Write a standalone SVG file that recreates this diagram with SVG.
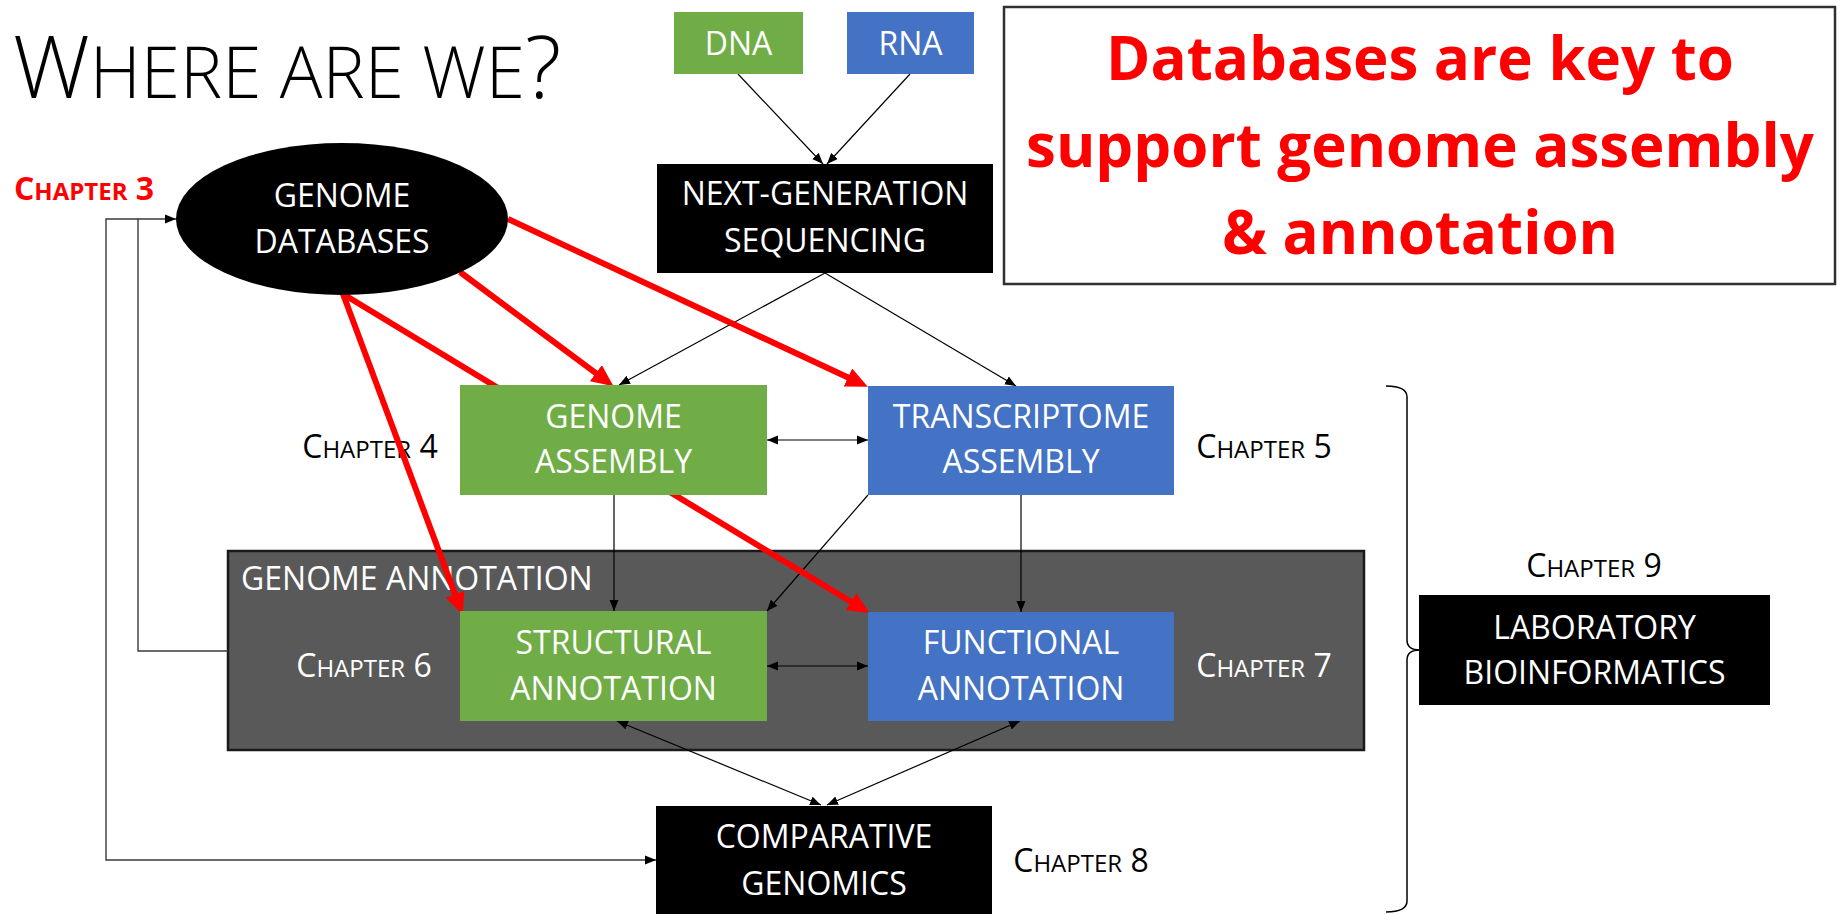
<svg xmlns="http://www.w3.org/2000/svg" width="1844" height="914" viewBox="0 0 1844 914">
  <defs>
    <style>
      text { font-family: "Open Sans", "Noto Sans", "Liberation Sans", sans-serif; }
      .lbl { font-size: 32px; fill: #ffffff; text-anchor: middle; }
      .ch { font-size: 32px; text-anchor: middle; fill: #000000; }
      .sc { font-size: 24px; }
      .thin { stroke: #000000; stroke-width: 1.2; fill: none; }
      .red { stroke: #ff0000; stroke-width: 6; fill: none; }
      .elbow { stroke: #3a3a3a; stroke-width: 1.4; fill: none; }
      .callout-text { font-size: 60px; font-weight: 700; fill: #ff0000; text-anchor: middle; }
    </style>
    <marker id="ah" viewBox="0 0 11 10" refX="11" refY="5" markerWidth="11" markerHeight="10" markerUnits="userSpaceOnUse" orient="auto-start-reverse">
      <path d="M0,0.5 L11,5 L0,9.5 z" fill="#000000"/>
    </marker>
    <marker id="ahRed" viewBox="0 0 22 20" refX="2" refY="10" markerWidth="22" markerHeight="20" markerUnits="userSpaceOnUse" orient="auto">
      <path d="M0,0 L22,10 L0,20 z" fill="#ff0000"/>
    </marker>
  </defs>

  <rect width="1844" height="914" fill="#ffffff"/>

  <!-- heading -->
  <g id="title">
    <text x="13" y="98" font-size="86" font-weight="300" fill="#000000">W<tspan font-size="71">HERE ARE WE</tspan>?</text>
  </g>

  <!-- annotation group container -->
  <g id="group-annotation">
    <rect x="228" y="551" width="1136" height="199" fill="#595959" stroke="#1a1a1a" stroke-width="2.5"/>
    <text x="241" y="590" font-size="32" fill="#ffffff">GENOME ANNOTATION</text>
  </g>

  <!-- chapter labels -->
  <g id="chapter-labels">
    <text class="ch" x="84" y="200" font-weight="700" font-size="33" style="fill:#ff0000">C<tspan class="sc" font-size="25">HAPTER</tspan> 3</text>
    <text class="ch" x="370" y="458">C<tspan class="sc">HAPTER</tspan> 4</text>
    <text class="ch" x="1264" y="458">C<tspan class="sc">HAPTER</tspan> 5</text>
    <text class="ch" x="364" y="677" style="fill:#ffffff">C<tspan class="sc">HAPTER</tspan> 6</text>
    <text class="ch" x="1264" y="677" style="fill:#ffffff">C<tspan class="sc">HAPTER</tspan> 7</text>
    <text class="ch" x="1081" y="872">C<tspan class="sc">HAPTER</tspan> 8</text>
    <text class="ch" x="1594" y="577">C<tspan class="sc">HAPTER</tspan> 9</text>
  </g>

  <!-- connectors -->
  <g id="connectors">
    <!-- sequencing inputs -->
    <line class="thin" x1="738" y1="74" x2="823" y2="164" marker-end="url(#ah)"/>
    <line class="thin" x1="910" y1="74" x2="827" y2="164" marker-end="url(#ah)"/>
    <!-- sequencing to assemblies -->
    <line class="thin" x1="825" y1="273" x2="619" y2="385" marker-end="url(#ah)"/>
    <line class="thin" x1="825" y1="273" x2="1016" y2="386" marker-end="url(#ah)"/>
    <!-- assembly to assembly -->
    <line class="thin" x1="767" y1="440" x2="868" y2="440" marker-start="url(#ah)" marker-end="url(#ah)"/>
    <!-- assemblies to annotation -->
    <line class="thin" x1="614" y1="495" x2="614" y2="611" marker-end="url(#ah)"/>
    <line class="thin" x1="1021" y1="495" x2="1021" y2="612" marker-end="url(#ah)"/>
    <line class="thin" x1="868" y1="495" x2="767" y2="611" marker-end="url(#ah)"/>
    <!-- structural and functional -->
    <line class="thin" x1="767" y1="666" x2="868" y2="666" marker-start="url(#ah)" marker-end="url(#ah)"/>
    <!-- annotation to comparative genomics -->
    <line class="thin" x1="617" y1="721" x2="821" y2="805" marker-start="url(#ah)" marker-end="url(#ah)"/>
    <line class="thin" x1="1020" y1="721" x2="827" y2="805" marker-start="url(#ah)" marker-end="url(#ah)"/>
    <!-- feedback elbows to databases / comparative genomics -->
    <path class="elbow" d="M228,651 H138 V219 H176" marker-end="url(#ah)"/>
    <path class="elbow" d="M138,219 H106 V860 H656" marker-end="url(#ah)"/>
    <!-- database support (red) -->
    <line class="red" x1="343" y1="294" x2="455.7" y2="596.1" marker-end="url(#ahRed)"/>
    <line class="red" x1="460" y1="272" x2="597.5" y2="374.3" marker-end="url(#ahRed)"/>
    <line class="red" x1="343" y1="294" x2="852.6" y2="602.7" marker-end="url(#ahRed)"/>
    <line class="red" x1="508" y1="219" x2="849.7" y2="378.3" marker-end="url(#ahRed)"/>
    <!-- brace grouping chapters 4-8 -->
    <path d="M1386,386 Q1407,386 1407,397 V640 Q1407,650 1420,650 Q1407,650 1407,660 V901 Q1407,912 1386,912" fill="none" stroke="#000000" stroke-width="1.5"/>
  </g>

  <!-- nodes -->
  <g id="node-dna">
    <rect x="674" y="12" width="129" height="62" fill="#70ad47"/>
    <text class="lbl" x="738.5" y="55">DNA</text>
  </g>
  <g id="node-rna">
    <rect x="847" y="12" width="127" height="62" fill="#4472c4"/>
    <text class="lbl" x="910.5" y="55">RNA</text>
  </g>
  <g id="node-ngs">
    <rect x="657" y="164" width="336" height="109" fill="#000000"/>
    <text class="lbl" x="825" y="205">NEXT-GENERATION</text>
    <text class="lbl" x="825" y="252">SEQUENCING</text>
  </g>
  <g id="node-databases">
    <ellipse cx="342" cy="219" rx="166" ry="76" fill="#000000"/>
    <text class="lbl" x="342" y="207">GENOME</text>
    <text class="lbl" x="342" y="253">DATABASES</text>
  </g>
  <g id="node-genome-assembly">
    <rect x="460" y="385" width="307" height="110" fill="#70ad47"/>
    <text class="lbl" x="613.5" y="428">GENOME</text>
    <text class="lbl" x="613.5" y="473">ASSEMBLY</text>
  </g>
  <g id="node-transcriptome-assembly">
    <rect x="868" y="386" width="306" height="109" fill="#4472c4"/>
    <text class="lbl" x="1021" y="428">TRANSCRIPTOME</text>
    <text class="lbl" x="1021" y="473">ASSEMBLY</text>
  </g>
  <g id="node-structural-annotation">
    <rect x="460" y="611" width="307" height="110" fill="#70ad47"/>
    <text class="lbl" x="613.5" y="654">STRUCTURAL</text>
    <text class="lbl" x="613.5" y="700">ANNOTATION</text>
  </g>
  <g id="node-functional-annotation">
    <rect x="868" y="612" width="306" height="109" fill="#4472c4"/>
    <text class="lbl" x="1021" y="654">FUNCTIONAL</text>
    <text class="lbl" x="1021" y="700">ANNOTATION</text>
  </g>
  <g id="node-comparative-genomics">
    <rect x="656" y="806" width="336" height="110" fill="#000000"/>
    <text class="lbl" x="824" y="848">COMPARATIVE</text>
    <text class="lbl" x="824" y="895">GENOMICS</text>
  </g>
  <g id="node-lab-bioinformatics">
    <rect x="1419" y="595" width="351" height="110" fill="#000000"/>
    <text class="lbl" x="1594.5" y="639">LABORATORY</text>
    <text class="lbl" x="1594.5" y="684">BIOINFORMATICS</text>
  </g>

  <!-- callout -->
  <g id="callout">
    <rect x="1004" y="7" width="831" height="277" fill="#ffffff" stroke="#303030" stroke-width="2.5"/>
    <text class="callout-text" x="1420" y="80">Databases are key to</text>
    <text class="callout-text" x="1420" y="167">support genome assembly</text>
    <text class="callout-text" x="1420" y="254">&amp; annotation</text>
  </g>
</svg>
